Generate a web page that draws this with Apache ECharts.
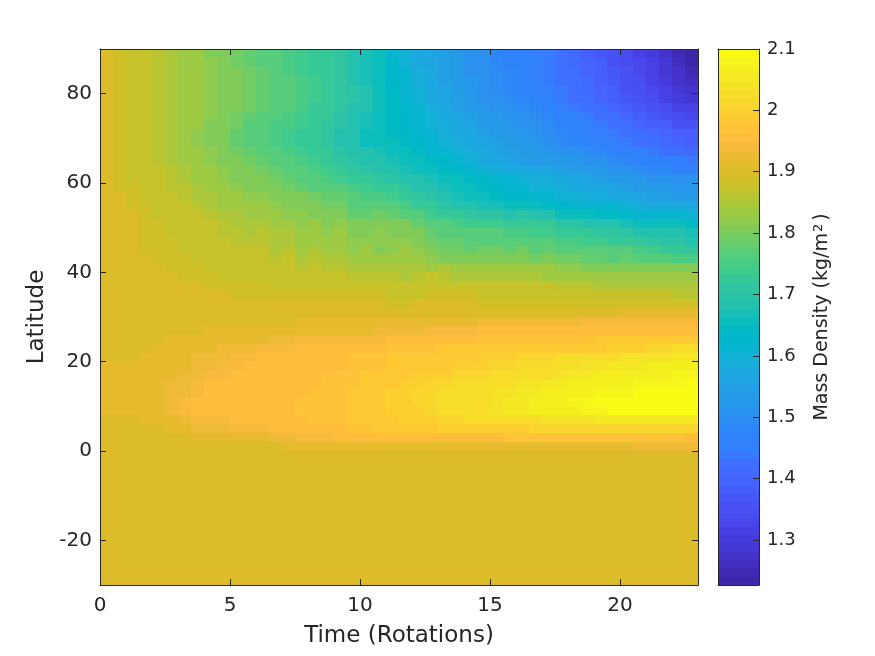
<!DOCTYPE html>
<html><head><meta charset="utf-8">
<style>html,body{margin:0;background:#fff}#c{width:875px;height:656px}</style>
<script src="https://cdn.jsdelivr.net/npm/echarts@6/dist/echarts.min.js"></script></head>
<body><div id="c"></div>
<script>
const xTicks=[0,5,10,15,20], yTicks=[-20,0,20,40,60,80], barTicks=[1.3,1.4,1.5,1.6,1.7,1.8,1.9,2,2.1];
const timeEdges=[0,.5,1,1.5,2,2.5,3,3.5,4,4.5,5,5.5,6,6.5,7,7.5,8,8.5,9,9.5,10,10.5,11,11.5,12,12.5,13,13.5,14,14.5,15,15.5,16,16.5,17,17.5,18,18.5,19,19.5,20,20.5,21,21.5,22,22.5,23];
const latEdges=[90,88,86,84,82,80,78,76,74,72,70,68,66,64,62,60,58,56,54,52,50,48,46,44,42,40,38,36,34,32,30,28,26,24,22,20,18,16,14,12,10,8,6,4,2,0,-30];
const lat89=[1.90,1.89,1.88,1.87,1.86,1.85,1.84,1.83,1.81,1.80,1.79,1.78,1.77,1.76,1.75,1.74,1.73,1.72,1.71,1.69,1.67,1.65,1.62,1.60,1.58,1.56,1.55,1.53,1.51,1.50,1.48,1.47,1.46,1.45,1.44,1.42,1.41,1.39,1.37,1.36,1.34,1.32,1.30,1.28,1.25,1.23];
const lat87=[1.90,1.89,1.88,1.87,1.86,1.85,1.84,1.83,1.82,1.80,1.79,1.78,1.77,1.76,1.75,1.74,1.73,1.72,1.71,1.69,1.67,1.65,1.63,1.60,1.58,1.56,1.55,1.53,1.51,1.50,1.48,1.47,1.46,1.45,1.44,1.43,1.41,1.40,1.38,1.36,1.34,1.33,1.31,1.29,1.26,1.24];
const lat85=[1.90,1.89,1.88,1.87,1.86,1.85,1.84,1.83,1.82,1.81,1.80,1.79,1.78,1.76,1.75,1.74,1.73,1.72,1.71,1.69,1.67,1.65,1.63,1.61,1.59,1.57,1.55,1.53,1.51,1.50,1.49,1.48,1.46,1.45,1.44,1.43,1.42,1.40,1.38,1.37,1.35,1.33,1.31,1.29,1.27,1.25];
const lat83=[1.90,1.89,1.88,1.87,1.86,1.85,1.84,1.83,1.82,1.81,1.80,1.79,1.78,1.77,1.76,1.75,1.74,1.72,1.71,1.69,1.67,1.65,1.63,1.61,1.59,1.57,1.55,1.53,1.52,1.50,1.49,1.48,1.47,1.46,1.44,1.43,1.42,1.41,1.39,1.37,1.36,1.34,1.32,1.30,1.28,1.26];
const lat81=[1.90,1.89,1.88,1.87,1.86,1.85,1.84,1.83,1.82,1.81,1.80,1.79,1.78,1.77,1.76,1.75,1.74,1.73,1.71,1.70,1.68,1.66,1.64,1.62,1.60,1.58,1.56,1.54,1.52,1.51,1.49,1.48,1.47,1.46,1.45,1.44,1.42,1.41,1.40,1.38,1.36,1.35,1.33,1.31,1.29,1.28];
const lat79=[1.90,1.89,1.88,1.87,1.86,1.85,1.84,1.83,1.82,1.81,1.80,1.79,1.78,1.77,1.76,1.75,1.74,1.73,1.71,1.70,1.68,1.66,1.64,1.62,1.60,1.58,1.56,1.55,1.53,1.51,1.50,1.49,1.48,1.47,1.46,1.44,1.43,1.42,1.40,1.39,1.37,1.36,1.34,1.32,1.30,1.29];
const lat77=[1.90,1.89,1.88,1.87,1.86,1.85,1.84,1.83,1.82,1.81,1.80,1.79,1.78,1.77,1.76,1.75,1.73,1.72,1.71,1.69,1.68,1.66,1.64,1.63,1.61,1.59,1.57,1.55,1.54,1.52,1.51,1.50,1.49,1.48,1.46,1.45,1.44,1.43,1.42,1.40,1.39,1.37,1.35,1.34,1.32,1.31];
const lat75=[1.90,1.89,1.88,1.87,1.86,1.85,1.84,1.83,1.82,1.80,1.79,1.78,1.77,1.76,1.75,1.74,1.73,1.72,1.70,1.69,1.67,1.66,1.64,1.63,1.61,1.60,1.58,1.56,1.55,1.53,1.52,1.51,1.50,1.49,1.48,1.46,1.45,1.44,1.43,1.42,1.40,1.39,1.37,1.36,1.34,1.33];
const lat73=[1.90,1.89,1.88,1.87,1.86,1.85,1.84,1.83,1.81,1.80,1.79,1.77,1.76,1.75,1.75,1.74,1.73,1.71,1.70,1.68,1.67,1.65,1.64,1.63,1.62,1.60,1.59,1.57,1.56,1.54,1.53,1.52,1.51,1.50,1.49,1.47,1.46,1.45,1.44,1.43,1.42,1.40,1.39,1.38,1.36,1.35];
const lat71=[1.90,1.89,1.88,1.87,1.86,1.85,1.84,1.82,1.81,1.80,1.78,1.77,1.76,1.75,1.74,1.73,1.72,1.71,1.69,1.68,1.66,1.65,1.64,1.63,1.62,1.61,1.59,1.58,1.57,1.55,1.54,1.53,1.52,1.51,1.49,1.48,1.47,1.46,1.45,1.44,1.43,1.42,1.41,1.40,1.39,1.38];
const lat69=[1.90,1.89,1.88,1.87,1.86,1.85,1.84,1.82,1.81,1.80,1.78,1.77,1.76,1.75,1.74,1.73,1.72,1.71,1.69,1.68,1.66,1.65,1.65,1.64,1.63,1.62,1.60,1.59,1.58,1.56,1.55,1.54,1.53,1.52,1.50,1.49,1.48,1.47,1.46,1.45,1.44,1.43,1.42,1.41,1.40,1.39];
const lat67=[1.90,1.89,1.88,1.87,1.86,1.85,1.84,1.83,1.82,1.80,1.79,1.78,1.77,1.76,1.75,1.74,1.73,1.72,1.70,1.69,1.68,1.67,1.66,1.65,1.64,1.62,1.61,1.60,1.59,1.57,1.56,1.55,1.54,1.53,1.52,1.51,1.50,1.49,1.48,1.47,1.46,1.45,1.44,1.43,1.42,1.41];
const lat65=[1.90,1.89,1.88,1.87,1.86,1.85,1.84,1.83,1.82,1.81,1.80,1.79,1.78,1.77,1.76,1.75,1.74,1.73,1.71,1.70,1.69,1.68,1.67,1.66,1.65,1.64,1.63,1.61,1.60,1.58,1.57,1.56,1.55,1.54,1.53,1.53,1.52,1.51,1.50,1.49,1.48,1.47,1.46,1.45,1.45,1.44];
const lat63=[1.90,1.89,1.88,1.87,1.87,1.86,1.85,1.84,1.83,1.82,1.81,1.80,1.79,1.78,1.77,1.76,1.75,1.74,1.72,1.71,1.70,1.69,1.68,1.67,1.66,1.65,1.64,1.63,1.62,1.60,1.59,1.58,1.57,1.56,1.56,1.55,1.54,1.53,1.52,1.51,1.50,1.49,1.48,1.48,1.47,1.47];
const lat61=[1.90,1.89,1.88,1.88,1.87,1.86,1.85,1.84,1.83,1.82,1.81,1.80,1.80,1.79,1.78,1.77,1.76,1.75,1.74,1.73,1.72,1.71,1.70,1.69,1.68,1.67,1.66,1.65,1.64,1.63,1.62,1.61,1.60,1.59,1.59,1.58,1.57,1.56,1.55,1.54,1.53,1.52,1.51,1.51,1.50,1.50];
const lat59=[1.90,1.89,1.89,1.88,1.87,1.86,1.86,1.85,1.84,1.83,1.82,1.81,1.81,1.80,1.79,1.78,1.77,1.76,1.76,1.75,1.74,1.73,1.72,1.71,1.69,1.68,1.67,1.66,1.65,1.64,1.63,1.62,1.61,1.60,1.60,1.59,1.58,1.57,1.57,1.56,1.55,1.54,1.53,1.53,1.52,1.52];
const lat57=[1.90,1.90,1.89,1.88,1.88,1.87,1.86,1.85,1.85,1.84,1.83,1.82,1.82,1.81,1.80,1.80,1.79,1.78,1.78,1.76,1.75,1.75,1.74,1.73,1.71,1.70,1.68,1.67,1.66,1.65,1.64,1.63,1.63,1.62,1.61,1.60,1.60,1.59,1.59,1.58,1.57,1.56,1.55,1.55,1.54,1.54];
const lat55=[1.90,1.90,1.89,1.89,1.88,1.87,1.87,1.86,1.85,1.84,1.84,1.83,1.83,1.82,1.81,1.81,1.80,1.79,1.79,1.77,1.76,1.77,1.76,1.75,1.73,1.72,1.70,1.69,1.68,1.67,1.67,1.66,1.66,1.65,1.64,1.63,1.62,1.62,1.61,1.61,1.60,1.59,1.58,1.58,1.57,1.57];
const lat53=[1.90,1.90,1.90,1.89,1.88,1.88,1.87,1.87,1.86,1.85,1.85,1.84,1.84,1.83,1.82,1.82,1.81,1.80,1.81,1.78,1.78,1.79,1.78,1.77,1.76,1.74,1.73,1.72,1.71,1.70,1.70,1.69,1.70,1.68,1.68,1.66,1.66,1.65,1.64,1.64,1.63,1.62,1.62,1.61,1.61,1.60];
const lat51=[1.90,1.90,1.90,1.89,1.89,1.88,1.88,1.87,1.87,1.86,1.85,1.85,1.85,1.84,1.84,1.82,1.83,1.81,1.82,1.80,1.80,1.81,1.80,1.80,1.78,1.77,1.76,1.75,1.74,1.74,1.74,1.73,1.73,1.72,1.72,1.70,1.70,1.69,1.68,1.68,1.67,1.66,1.66,1.65,1.65,1.64];
const lat49=[1.90,1.90,1.90,1.89,1.89,1.88,1.88,1.87,1.87,1.86,1.86,1.85,1.86,1.85,1.85,1.83,1.84,1.82,1.83,1.81,1.81,1.82,1.81,1.81,1.80,1.78,1.77,1.77,1.76,1.76,1.76,1.75,1.75,1.74,1.74,1.73,1.73,1.72,1.71,1.71,1.70,1.69,1.69,1.68,1.68,1.67];
const lat47=[1.90,1.90,1.90,1.89,1.89,1.89,1.88,1.88,1.88,1.87,1.86,1.86,1.86,1.85,1.85,1.84,1.84,1.83,1.84,1.82,1.82,1.82,1.82,1.82,1.81,1.79,1.78,1.78,1.77,1.77,1.77,1.76,1.77,1.76,1.76,1.75,1.75,1.74,1.74,1.73,1.73,1.72,1.71,1.70,1.70,1.69];
const lat45=[1.90,1.90,1.90,1.89,1.89,1.89,1.88,1.88,1.88,1.87,1.87,1.87,1.87,1.85,1.86,1.84,1.85,1.83,1.84,1.82,1.83,1.81,1.82,1.83,1.82,1.80,1.79,1.79,1.78,1.79,1.79,1.78,1.79,1.77,1.78,1.77,1.77,1.76,1.77,1.76,1.76,1.75,1.74,1.73,1.72,1.71];
const lat43=[1.90,1.90,1.90,1.90,1.89,1.89,1.89,1.88,1.88,1.88,1.87,1.87,1.87,1.86,1.87,1.85,1.86,1.85,1.85,1.84,1.84,1.83,1.84,1.84,1.83,1.82,1.81,1.81,1.80,1.81,1.80,1.80,1.81,1.79,1.80,1.79,1.79,1.78,1.78,1.77,1.78,1.77,1.76,1.76,1.75,1.75];
const lat41=[1.90,1.90,1.90,1.90,1.90,1.89,1.89,1.89,1.88,1.88,1.88,1.88,1.87,1.87,1.87,1.86,1.87,1.86,1.86,1.85,1.85,1.85,1.85,1.85,1.85,1.84,1.85,1.84,1.84,1.84,1.84,1.83,1.84,1.83,1.83,1.82,1.82,1.81,1.81,1.81,1.81,1.81,1.80,1.80,1.80,1.80];
const lat39=[1.90,1.90,1.90,1.90,1.90,1.90,1.89,1.89,1.89,1.88,1.88,1.88,1.88,1.87,1.88,1.87,1.87,1.87,1.87,1.86,1.86,1.86,1.86,1.85,1.86,1.87,1.86,1.85,1.85,1.85,1.85,1.85,1.85,1.85,1.84,1.84,1.83,1.83,1.83,1.83,1.83,1.83,1.83,1.83,1.83,1.83];
const lat37=[1.90,1.90,1.90,1.90,1.90,1.90,1.90,1.90,1.89,1.89,1.89,1.89,1.89,1.88,1.88,1.88,1.88,1.88,1.88,1.87,1.88,1.87,1.87,1.87,1.87,1.88,1.87,1.87,1.87,1.87,1.87,1.87,1.87,1.87,1.87,1.86,1.86,1.86,1.85,1.85,1.85,1.85,1.85,1.85,1.85,1.85];
const lat35=[1.90,1.90,1.90,1.90,1.90,1.90,1.90,1.90,1.90,1.90,1.89,1.89,1.89,1.89,1.89,1.89,1.89,1.89,1.89,1.89,1.89,1.89,1.88,1.88,1.88,1.89,1.89,1.89,1.89,1.88,1.88,1.88,1.88,1.88,1.88,1.88,1.87,1.87,1.87,1.87,1.87,1.87,1.87,1.87,1.86,1.86];
const lat33=[1.90,1.90,1.90,1.90,1.90,1.90,1.90,1.90,1.90,1.90,1.90,1.90,1.90,1.90,1.90,1.90,1.90,1.90,1.90,1.90,1.90,1.90,1.89,1.89,1.90,1.90,1.90,1.90,1.90,1.89,1.89,1.89,1.89,1.89,1.89,1.89,1.89,1.89,1.89,1.89,1.89,1.89,1.89,1.89,1.89,1.89];
const lat31=[1.90,1.90,1.90,1.90,1.90,1.90,1.90,1.90,1.90,1.90,1.90,1.90,1.90,1.90,1.90,1.90,1.90,1.90,1.90,1.90,1.90,1.90,1.90,1.90,1.90,1.90,1.90,1.90,1.90,1.90,1.90,1.90,1.90,1.90,1.90,1.90,1.90,1.90,1.90,1.90,1.91,1.91,1.91,1.91,1.91,1.91];
const lat29=[1.90,1.90,1.90,1.90,1.90,1.90,1.90,1.90,1.90,1.90,1.90,1.90,1.90,1.90,1.90,1.91,1.91,1.91,1.91,1.91,1.91,1.92,1.92,1.92,1.92,1.92,1.92,1.92,1.92,1.93,1.93,1.93,1.93,1.93,1.93,1.93,1.93,1.94,1.94,1.94,1.94,1.94,1.94,1.94,1.94,1.94];
const lat27=[1.90,1.90,1.90,1.90,1.90,1.90,1.90,1.90,1.91,1.91,1.91,1.91,1.91,1.91,1.91,1.92,1.92,1.92,1.92,1.92,1.92,1.93,1.93,1.93,1.93,1.94,1.94,1.94,1.94,1.95,1.96,1.96,1.96,1.96,1.96,1.96,1.96,1.96,1.96,1.96,1.96,1.96,1.96,1.96,1.96,1.96];
const lat25=[1.90,1.90,1.90,1.90,1.90,1.91,1.91,1.91,1.91,1.92,1.92,1.92,1.92,1.93,1.93,1.94,1.94,1.94,1.94,1.94,1.94,1.94,1.95,1.95,1.95,1.96,1.96,1.96,1.96,1.97,1.97,1.97,1.97,1.97,1.97,1.97,1.97,1.97,1.98,1.98,1.98,1.98,1.98,1.98,1.98,1.98];
const lat23=[1.90,1.90,1.90,1.90,1.91,1.91,1.92,1.92,1.92,1.93,1.93,1.93,1.94,1.94,1.94,1.95,1.95,1.95,1.95,1.96,1.96,1.96,1.97,1.97,1.97,1.97,1.98,1.98,1.98,1.98,1.98,1.98,1.98,1.99,1.99,1.99,1.99,1.99,1.99,2.00,2.00,2.00,2.01,2.01,2.02,2.02];
const lat21=[1.90,1.90,1.90,1.91,1.91,1.92,1.92,1.93,1.93,1.93,1.94,1.94,1.95,1.95,1.95,1.96,1.96,1.96,1.96,1.97,1.97,1.97,1.98,1.98,1.98,1.98,1.99,1.99,1.99,2.00,2.00,2.00,2.01,2.01,2.01,2.02,2.02,2.03,2.03,2.03,2.04,2.04,2.04,2.04,2.05,2.05];
const lat19=[1.91,1.91,1.91,1.92,1.92,1.92,1.92,1.93,1.93,1.94,1.94,1.95,1.95,1.95,1.96,1.96,1.96,1.96,1.96,1.97,1.97,1.97,1.98,1.98,1.99,1.99,1.99,2.00,2.00,2.00,2.01,2.01,2.02,2.02,2.02,2.03,2.03,2.04,2.04,2.05,2.05,2.05,2.06,2.06,2.06,2.06];
const lat17=[1.91,1.91,1.91,1.92,1.92,1.92,1.93,1.93,1.94,1.94,1.95,1.95,1.95,1.96,1.96,1.96,1.96,1.97,1.97,1.97,1.98,1.98,1.98,1.99,2.00,2.00,2.00,2.01,2.01,2.01,2.02,2.02,2.03,2.03,2.03,2.04,2.05,2.05,2.06,2.06,2.06,2.07,2.07,2.07,2.08,2.08];
const lat15=[1.91,1.91,1.91,1.92,1.92,1.93,1.93,1.94,1.95,1.95,1.95,1.95,1.96,1.96,1.96,1.96,1.96,1.97,1.97,1.97,1.98,1.98,1.99,2.00,2.00,2.01,2.01,2.02,2.02,2.02,2.03,2.03,2.04,2.04,2.05,2.05,2.06,2.06,2.07,2.07,2.07,2.08,2.08,2.08,2.08,2.09];
const lat13=[1.91,1.91,1.91,1.92,1.92,1.93,1.93,1.94,1.95,1.95,1.96,1.96,1.96,1.96,1.96,1.96,1.97,1.97,1.97,1.98,1.98,1.99,2.00,2.00,2.01,2.01,2.02,2.02,2.03,2.03,2.04,2.04,2.05,2.05,2.06,2.06,2.07,2.07,2.08,2.08,2.08,2.09,2.09,2.09,2.09,2.10];
const lat11=[1.91,1.91,1.91,1.92,1.92,1.93,1.94,1.95,1.95,1.95,1.96,1.96,1.96,1.96,1.96,1.97,1.97,1.97,1.97,1.98,1.98,1.99,2.00,2.00,2.01,2.01,2.02,2.02,2.03,2.03,2.04,2.05,2.05,2.06,2.07,2.07,2.08,2.08,2.09,2.09,2.10,2.10,2.10,2.10,2.10,2.10];
const lat9=[1.91,1.91,1.91,1.92,1.92,1.93,1.94,1.95,1.95,1.95,1.96,1.96,1.96,1.96,1.96,1.97,1.97,1.97,1.97,1.98,1.98,1.99,2.00,2.00,2.00,2.01,2.02,2.02,2.03,2.03,2.04,2.05,2.05,2.06,2.06,2.07,2.07,2.08,2.08,2.09,2.09,2.09,2.10,2.10,2.10,2.09];
const lat7=[1.90,1.90,1.90,1.91,1.91,1.92,1.93,1.94,1.94,1.94,1.95,1.95,1.95,1.96,1.96,1.96,1.97,1.97,1.97,1.98,1.98,1.99,1.99,2.00,2.00,2.00,2.01,2.01,2.02,2.02,2.03,2.03,2.03,2.03,2.04,2.04,2.04,2.04,2.05,2.05,2.05,2.05,2.05,2.05,2.05,2.05];
const lat5=[1.90,1.90,1.90,1.90,1.90,1.91,1.92,1.93,1.93,1.93,1.94,1.94,1.94,1.95,1.95,1.95,1.95,1.96,1.96,1.97,1.97,1.98,1.98,1.99,1.99,1.99,2.00,2.00,2.00,2.00,2.00,2.00,2.00,2.01,2.01,2.01,2.01,2.01,2.01,2.01,2.01,2.01,2.01,2.01,2.01,2.01];
const lat3=[1.90,1.90,1.90,1.90,1.90,1.90,1.90,1.91,1.91,1.91,1.92,1.92,1.92,1.93,1.93,1.94,1.94,1.94,1.95,1.95,1.95,1.96,1.96,1.96,1.96,1.96,1.96,1.96,1.96,1.96,1.96,1.97,1.97,1.97,1.97,1.97,1.97,1.97,1.97,1.97,1.97,1.97,1.97,1.97,1.97,1.96];
const lat1=[1.90,1.90,1.90,1.90,1.90,1.90,1.90,1.90,1.90,1.90,1.90,1.90,1.90,1.90,1.91,1.91,1.91,1.91,1.91,1.91,1.91,1.91,1.91,1.91,1.91,1.92,1.92,1.92,1.92,1.92,1.92,1.92,1.92,1.92,1.92,1.92,1.92,1.92,1.92,1.92,1.92,1.93,1.93,1.93,1.93,1.93];
const south=[1.90,1.90,1.90,1.90,1.90,1.90,1.90,1.90,1.90,1.90,1.90,1.90,1.90,1.90,1.90,1.90,1.90,1.90,1.90,1.90,1.90,1.90,1.90,1.90,1.90,1.90,1.90,1.90,1.90,1.90,1.90,1.90,1.90,1.90,1.90,1.90,1.90,1.90,1.90,1.90,1.90,1.90,1.90,1.90,1.90,1.90];
const densityRows=[lat89,lat87,lat85,lat83,lat81,lat79,lat77,lat75,lat73,lat71,lat69,lat67,lat65,lat63,lat61,lat59,lat57,lat55,lat53,lat51,lat49,lat47,lat45,lat43,lat41,lat39,lat37,lat35,lat33,lat31,lat29,lat27,lat25,lat23,lat21,lat19,lat17,lat15,lat13,lat11,lat9,lat7,lat5,lat3,lat1,south];
const parula=["#3e26a8","#402ab4","#422fc0","#4432cb","#4537d5","#463cde","#4741e5","#4747eb","#484df0","#4852f4","#4758f8","#465efb","#4563fd","#426afe","#3e6fff","#387bfe","#3280fc","#2f82fa","#2e87f7","#2d8cf3","#2b91ee","#2797eb","#259be7","#23a0e5","#20a5e3","#1ca9df","#18addb","#12b1d6","#08b5d0","#01b8ca","#02bac3","#0bbdbc","#19bfb6","#24c1ae","#2cc3a7","#31c69f","#37c897","#3fca8e","#4acb83","#57cc7a","#64cd6f","#72cd64","#81cc59","#8fcb4e","#9dc943","#acc739","#b9c431","#c5c22a","#d1bf27","#dcbd29","#e6bb2d","#efba36","#f8ba3d","#febe3c","#fec338","#fec933","#fccf30","#f9d62d","#f7dc2a","#f5e327","#f5e924","#f6ef20","#f7f51b","#f9fb15"];
const barMin=1.2266, barMax=2.1;

const levelSize=(barMax-barMin)/parula.length;
const pieces=parula.map((color,i)=>({gte:barMin+i*levelSize,lt:i===parula.length-1?99:barMin+(i+1)*levelSize,color}));
pieces[0].gte=-99;
const cells=[];
densityRows.forEach((row,r)=>row.forEach((v,c)=>cells.push([timeEdges[c],timeEdges[c+1],latEdges[r+1],latEdges[r],v])));
const barCells=parula.map((_,i)=>[0,1,barMin+i*levelSize,barMin+(i+1)*levelSize,barMin+(i+.5)*levelSize]);
function rect(params,api){
  const a=api.coord([api.value(0),api.value(3)]), b=api.coord([api.value(1),api.value(2)]);
  const x=Math.round(a[0]),y=Math.round(a[1]);
  return {type:'rect',shape:{x,y,width:Math.round(b[0])-x,height:Math.round(b[1])-y},style:{fill:api.visual('color')}};
}
const ink='#262626', font='DejaVu Sans';
const line={show:true,onZero:false,lineStyle:{color:ink,width:1}};
const tick=(vals)=>({show:true,inside:true,length:6,customValues:vals,lineStyle:{color:ink,width:1}});
const label=(vals,size,margin,padding)=>({show:true,customValues:vals,color:ink,fontFamily:font,fontSize:size,margin,padding});
const off={show:false};
const chart=echarts.init(document.getElementById('c'),null,{renderer:'canvas'});
chart.setOption({
  animation:false,backgroundColor:'#fff',
  grid:[{left:100,top:49,width:598,height:536,outerBoundsMode:'none'},{left:718,top:49,width:41,height:536,outerBoundsMode:'none'}],
  visualMap:{show:false,type:'piecewise',dimension:4,seriesIndex:[0,1],pieces},
  xAxis:[
    {gridIndex:0,z:5,type:'value',min:0,max:23,name:'Time (Rotations)',nameLocation:'middle',nameGap:40,
     nameTextStyle:{color:ink,fontFamily:font,fontSize:23},axisLine:line,axisTick:tick(xTicks),axisLabel:label(xTicks,20,11,[0,0,0,0]),splitLine:off},
    {gridIndex:0,z:5,type:'value',min:0,max:23,position:'top',axisLine:line,axisTick:tick(xTicks),axisLabel:off,splitLine:off},
    {gridIndex:1,z:5,type:'value',min:0,max:1,axisLine:line,axisTick:off,axisLabel:off,splitLine:off},
    {gridIndex:1,z:5,type:'value',min:0,max:1,position:'top',axisLine:line,axisTick:off,axisLabel:off,splitLine:off}
  ],
  yAxis:[
    {gridIndex:0,z:5,type:'value',min:-30,max:90,name:'Latitude',nameLocation:'middle',nameGap:51,nameRotate:90,
     nameTextStyle:{color:ink,fontFamily:font,fontSize:23},axisLine:line,axisTick:tick(yTicks),axisLabel:label(yTicks,20,8,[4,0,0,0]),splitLine:off},
    {gridIndex:0,z:5,type:'value',min:-30,max:90,position:'right',axisLine:line,axisTick:tick(yTicks),axisLabel:off,splitLine:off},
    {gridIndex:1,z:5,type:'value',min:barMin,max:barMax,position:'right',
     name:'{t|Mass Density (kg/m}{s|2}{t|)}',nameLocation:'middle',nameGap:53,nameRotate:90,
     nameTextStyle:{rich:{t:{color:ink,fontFamily:font,fontSize:19},s:{color:ink,fontFamily:font,fontSize:13,verticalAlign:'top',padding:[0,3,8,1]}}},
     axisLine:line,axisTick:tick(barTicks),axisLabel:label(barTicks,18,8,[4,0,0,0]),splitLine:off},
    {gridIndex:1,z:5,type:'value',min:barMin,max:barMax,position:'left',axisLine:line,axisTick:off,axisLabel:off,splitLine:off}
  ],
  series:[
    {type:'custom',xAxisIndex:0,yAxisIndex:0,data:cells,renderItem:rect,encode:{x:[0,1],y:[2,3]},z:1},
    {type:'custom',xAxisIndex:2,yAxisIndex:2,data:barCells,renderItem:rect,encode:{x:[0,1],y:[2,3]},z:1}
  ]
});
</script></body></html>
